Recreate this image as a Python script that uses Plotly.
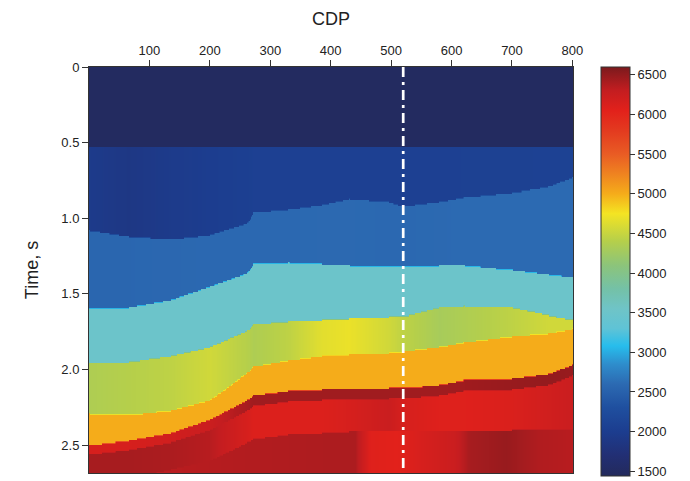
import numpy as np
import plotly.graph_objects as go

# ---- Velocity model: horizons (two-way time, s) picked at CDP control nodes ----
cdp_nodes = [0, 65, 135, 200, 262, 272, 330, 385, 430, 495, 520, 580, 620, 700, 760, 800]

water_bottom = 0.53
h_base_layer2 = [1.08, 1.12, 1.14, 1.11, 1.03, 0.96, 0.94, 0.91, 0.87, 0.89, 0.92, 0.89, 0.86, 0.83, 0.79, 0.73]
h_base_layer3 = [1.60, 1.59, 1.54, 1.45, 1.36, 1.30, 1.29, 1.30, 1.31, 1.32, 1.32, 1.31, 1.31, 1.34, 1.37, 1.39]
h_base_layer4 = [1.96, 1.95, 1.91, 1.85, 1.74, 1.70, 1.68, 1.67, 1.66, 1.65, 1.65, 1.59, 1.58, 1.59, 1.64, 1.67]
h_base_layer5 = [2.29, 2.30, 2.27, 2.20, 2.02, 1.98, 1.94, 1.91, 1.90, 1.89, 1.88, 1.85, 1.82, 1.78, 1.76, 1.73]
h_base_layer6 = [2.50, 2.47, 2.42, 2.33, 2.20, 2.17, 2.14, 2.13, 2.13, 2.12, 2.12, 2.10, 2.07, 2.06, 2.03, 1.97]
h_red_band = [2.56, 2.53, 2.48, 2.40, 2.27, 2.24, 2.21, 2.20, 2.20, 2.19, 2.19, 2.17, 2.14, 2.13, 2.10, 2.04]
h_deep = [2.75, 2.72, 2.66, 2.60, 2.48, 2.46, 2.43, 2.42, 2.41, 2.41, 2.41, 2.41, 2.41, 2.40, 2.40, 2.40]

# ---- Interval velocities (m/s) at the same nodes ----
v_water = 1480
v_layer2 = [1950, 1880, 1950, 2000, 2040, 2050, 2050, 2050, 2050, 2050, 2050, 2050, 2060, 2060, 2070, 2080]
v_layer3 = [2560, 2560, 2570, 2580, 2580, 2580, 2580, 2590, 2590, 2580, 2580, 2590, 2600, 2600, 2600, 2600]
v_layer4 = [3500, 3500, 3500, 3500, 3500, 3500, 3500, 3500, 3500, 3500, 3500, 3500, 3500, 3500, 3500, 3500]
v_layer5 = [4350, 4400, 4450, 4550, 4400, 4350, 4450, 4650, 4700, 4550, 4450, 4300, 4350, 4450, 4550, 4550]
v_layer6 = [5000, 5000, 5000, 5000, 5000, 5000, 5000, 5000, 5000, 5000, 5000, 5000, 5000, 5000, 5000, 5000]
v_red_top = [6150, 6150, 6200, 6250, 6420, 6450, 6450, 6450, 6450, 6450, 6450, 6450, 6450, 6480, 6500, 6480]
v_red_mid = [6420, 6420, 6400, 6350, 6150, 6100, 6100, 6100, 6150, 6250, 6150, 6080, 6080, 6120, 6200, 6250]

# deep section: columnar velocity variation
deep_nodes = [0, 150, 300, 440, 465, 510, 550, 605, 630, 690, 745, 800]
v_deep = [6300, 6350, 6380, 6400, 6080, 6050, 6150, 6250, 6420, 6480, 6380, 6350]

# well / profile marker
marker_cdp = 520

# colour scale and axis ticks
vmin, vmax = 1440, 6600
scale_stops = [
    (1440, "#232a5c"), (1700, "#222f74"), (2000, "#1c3d8f"), (2300, "#1f4f9f"),
    (2600, "#2c6ab2"), (2850, "#2e8dcc"), (3080, "#27bdec"), (3300, "#5fc3d6"),
    (3550, "#6fc4c7"), (3800, "#74c1a7"), (4100, "#8cc47a"), (4400, "#b5cf4b"),
    (4750, "#f4e423"), (5000, "#f5ac1a"), (5250, "#ef8320"), (5500, "#e95c24"),
    (5800, "#e33a1f"), (6050, "#e2211b"), (6300, "#c41d20"), (6600, "#7b1a1d"),
]
cdp_ticks = [100, 200, 300, 400, 500, 600, 700, 800]
time_ticks = [0, 0.5, 1.0, 1.5, 2.0, 2.5]
time_labels = ["0", "0.5", "1.0", "1.5", "2.0", "2.5"]
cbar_ticks = [1500, 2000, 2500, 3000, 3500, 4000, 4500, 5000, 5500, 6000, 6500]
t_max = 2.685

# ---- build the gridded model ----
x = np.arange(0, 802, 2.0)
t = np.arange(0, 2.70, 0.01)
X = x[None, :]
T = t[:, None]


def along(nodes, vals):
    return np.interp(x, nodes, vals)[None, :]


z = np.full((t.size, x.size), float(v_water))
layers = [
    (water_bottom * np.ones_like(X), along(cdp_nodes, v_layer2)),
    (along(cdp_nodes, h_base_layer2), along(cdp_nodes, v_layer3)),
    (along(cdp_nodes, h_base_layer3), along(cdp_nodes, v_layer4)),
    (along(cdp_nodes, h_base_layer4), along(cdp_nodes, v_layer5)),
    (along(cdp_nodes, h_base_layer5), along(cdp_nodes, v_layer6)),
    (along(cdp_nodes, h_base_layer6), along(cdp_nodes, v_red_top)),
    (along(cdp_nodes, h_red_band), along(cdp_nodes, v_red_mid)),
    (along(cdp_nodes, h_deep), along(deep_nodes, v_deep)),
]
for top, vel in layers:
    mask = T >= top
    z = np.where(mask, np.broadcast_to(vel, z.shape), z)
z = np.round(z).astype(int)

colorscale = [[(v - vmin) / (vmax - vmin), c] for v, c in scale_stops]

font = "Liberation Sans, Arial, sans-serif"

fig = go.Figure()
fig.add_trace(go.Heatmap(
    x=x, y=t, z=z,
    zmin=vmin, zmax=vmax, zsmooth="best",
    colorscale=colorscale,
    hoverinfo="skip",
    colorbar=dict(
        x=1.058, xanchor="left", y=1.0, yanchor="top",
        xpad=0, ypad=0,
        thickness=29, thicknessmode="pixels",
        len=409, lenmode="pixels",
        outlinecolor="#333333", outlinewidth=1,
        ticks="outside", ticklen=5, tickcolor="#333333",
        tickvals=cbar_ticks,
        tickfont=dict(family=font, size=13, color="#222222"),
    ),
))

fig.add_trace(go.Scatter(
    x=[marker_cdp, marker_cdp], y=[0, t_max],
    mode="lines",
    line=dict(color="white", width=2.7, dash="10px,5px,3px,5px"),
    hoverinfo="skip", showlegend=False,
))

fig.update_layout(
    width=690, height=481,
    margin=dict(l=89, r=117, t=67, b=8, autoexpand=False),
    paper_bgcolor="white", plot_bgcolor="white",
    font=dict(family=font, color="#222222"),
    xaxis=dict(
        side="top", range=[0, 801],
        tickvals=cdp_ticks, ticks="outside", ticklen=6, tickcolor="#333333",
        tickfont=dict(size=13),
        showline=True, linecolor="#333333", linewidth=1, mirror=True,
        showgrid=False, zeroline=False,
        title=dict(text="CDP", font=dict(size=18), standoff=12),
    ),
    yaxis=dict(
        range=[t_max, 0],
        tickvals=time_ticks, ticktext=time_labels,
        ticks="outside", ticklen=6, tickcolor="#333333",
        tickfont=dict(size=13),
        showline=True, linecolor="#333333", linewidth=1, mirror=True,
        showgrid=False, zeroline=False,
        title=dict(text="Time, s", font=dict(size=18), standoff=18),
    ),
)

fig.write_html("out.html")
